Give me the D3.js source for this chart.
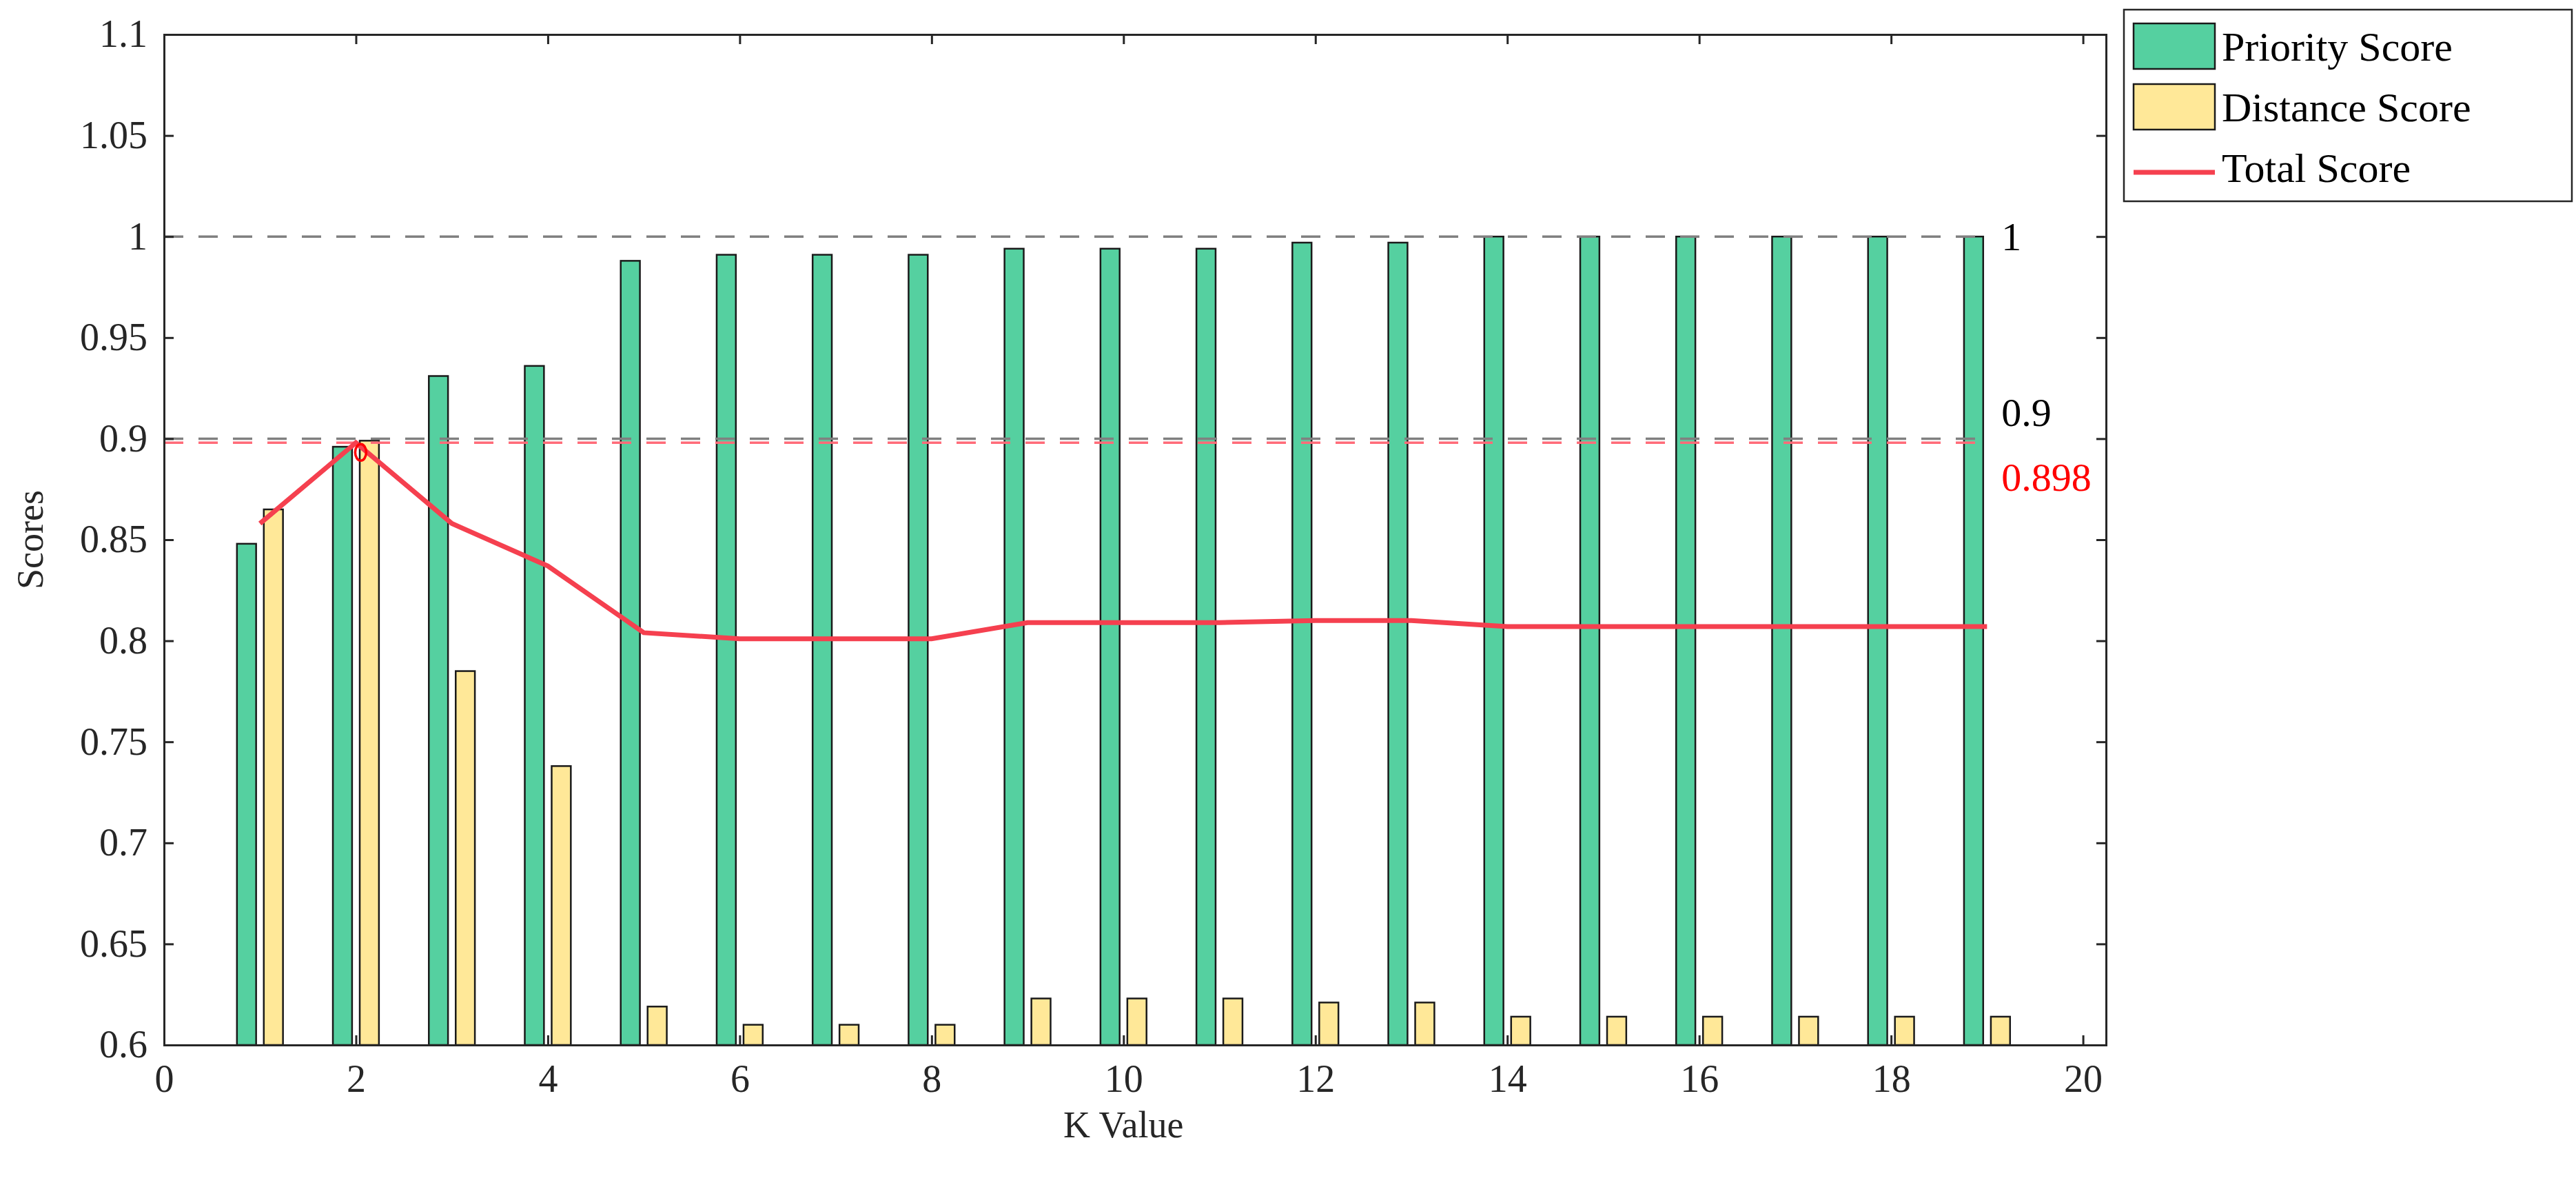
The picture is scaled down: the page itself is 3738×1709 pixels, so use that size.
<!DOCTYPE html>
<html><head><meta charset="utf-8">
<script src="https://cdn.jsdelivr.net/npm/d3@7"></script>
<style>body{margin:0;background:#fff}text{font-family:"Liberation Serif","DejaVu Serif",serif !important}</style>
</head><body><svg id="c" width="3738" height="1709"></svg>
<script>
const kValues=[1,2,3,4,5,6,7,8,9,10,11,12,13,14,15,16,17,18,19];
const priorityScore=[0.848,0.896,0.931,0.936,0.988,0.991,0.991,0.991,0.994,0.994,0.994,0.997,0.997,1,1,1,1,1,1];
const distanceScore=[0.865,0.899,0.785,0.738,0.619,0.610,0.610,0.610,0.623,0.623,0.623,0.621,0.621,0.614,0.614,0.614,0.614,0.614,0.614];
const totalScore=[0.858,0.898,0.858,0.837,0.804,0.801,0.801,0.801,0.809,0.809,0.809,0.810,0.810,0.807,0.807,0.807,0.807,0.807,0.807];
const xTicks=[0,2,4,6,8,10,12,14,16,18,20];
const yTicks=[0.6,0.65,0.7,0.75,0.8,0.85,0.9,0.95,1,1.05,1.1];
const refLines=[{v:1,color:"#808080"},{v:0.9,color:"#808080"},{v:0.898,color:"#ff6b78"}];

const svg=d3.select("#c");
const L=238,R=3056,T=50,B=1516;
const x=d3.scaleLinear().domain([0,20.24]).range([L,R]);
const y=d3.scaleLinear().domain([0.6,1.1]).range([B,T]);
const g=svg.append("g");
const bw=x(0.2)-x(0);
g.selectAll(".p").data(kValues).join("rect").attr("x",(d)=>x(d-0.24)).attr("width",bw)
 .attr("y",(d,i)=>y(priorityScore[i])).attr("height",(d,i)=>B-y(priorityScore[i]))
 .attr("fill","#55d0a0").attr("stroke","#1a1a1a").attr("stroke-width",2.5);
g.selectAll(".d").data(kValues).join("rect").attr("x",(d)=>x(d+0.04)).attr("width",bw)
 .attr("y",(d,i)=>y(distanceScore[i])).attr("height",(d,i)=>B-y(distanceScore[i]))
 .attr("fill","#ffe898").attr("stroke","#1a1a1a").attr("stroke-width",2.5);
refLines.forEach(r=>{
 g.append("line").attr("x1",x(0)).attr("x2",x(19)).attr("y1",y(r.v)).attr("y2",y(r.v))
  .attr("stroke",r.color).attr("stroke-width",3.5).attr("stroke-dasharray","28,22");
});
g.append("text").attr("x",x(19.15)).attr("y",y(1)+20).attr("font-size",58).text("1");
g.append("text").attr("x",x(19.15)).attr("y",y(0.9)-18).attr("font-size",58).text("0.9");
g.append("text").attr("x",x(19.15)).attr("y",y(0.9)+76).attr("font-size",58).attr("fill","#ff0000").text("0.898");
g.append("path").datum(kValues).attr("fill","none").attr("stroke","#f5404f").attr("stroke-width",7)
 .attr("d",d3.line().x(d=>x(d)).y((d,i)=>y(totalScore[i])));
g.append("ellipse").attr("cx",x(2.05)).attr("cy",y(0.898)+14).attr("rx",8).attr("ry",12).attr("fill","none").attr("stroke","#ff0000").attr("stroke-width",3.5);
const ax=svg.append("g");
ax.append("g").attr("transform",`translate(0,${B})`).call(d3.axisBottom(x).tickValues(xTicks).tickSize(-14).tickPadding(28).tickFormat(d3.format("d")));
ax.append("g").attr("transform",`translate(0,${T})`).call(d3.axisTop(x).tickValues(xTicks).tickSize(-14).tickFormat(""));
ax.append("g").attr("transform",`translate(${L},0)`).call(d3.axisLeft(y).tickValues(yTicks).tickSize(-14).tickPadding(24).tickFormat(d=>d3.format("")(+d.toFixed(2))));
ax.append("g").attr("transform",`translate(${R},0)`).call(d3.axisRight(y).tickValues(yTicks).tickSize(-14).tickFormat(""));
ax.selectAll("path.domain").attr("stroke","#262626").attr("stroke-width",3);
ax.selectAll(".tick line").attr("stroke","#262626").attr("stroke-width",3);
ax.selectAll(".tick text").attr("font-size",56).attr("fill","#262626");
svg.append("text").attr("x",(x(0)+x(20))/2).attr("y",1650).attr("text-anchor","middle").attr("font-size",54).attr("fill","#262626").text("K Value");
svg.append("text").attr("transform",`translate(62,${(T+B)/2}) rotate(-90)`).attr("text-anchor","middle").attr("font-size",54).attr("fill","#262626").text("Scores");
const lg=svg.append("g").attr("transform","translate(3082,14)");
lg.append("rect").attr("width",650).attr("height",278).attr("fill","#fff").attr("stroke","#262626").attr("stroke-width",2.5);
const items=[{n:"Priority Score",t:"rect",c:"#55d0a0"},{n:"Distance Score",t:"rect",c:"#ffe898"},{n:"Total Score",t:"line",c:"#f5404f"}];
items.forEach((it,i)=>{
 const cy=52+i*88;
 if(it.t==="rect") lg.append("rect").attr("x",14).attr("y",cy-32).attr("width",118).attr("height",66).attr("fill",it.c).attr("stroke","#1a1a1a").attr("stroke-width",2.5);
 else lg.append("line").attr("x1",14).attr("x2",132).attr("y1",cy+8).attr("y2",cy+8).attr("stroke",it.c).attr("stroke-width",7);
 lg.append("text").attr("x",142).attr("y",cy+22).attr("font-size",60).attr("fill","#000").text(it.n);
});
</script></body></html>
